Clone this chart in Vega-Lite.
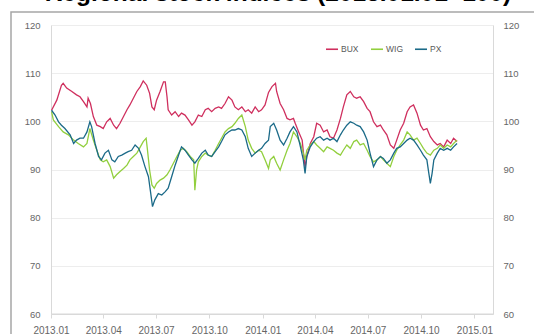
{
  "$schema": "https://vega.github.io/schema/vega-lite/v6.json",
  "width": 524,
  "height": 323,
  "autosize": {"type": "none"},
  "padding": {"left": 11, "top": 12, "right": -1, "bottom": -1},
  "background": "white",
  "title": {
    "text": "Regional stock indices (2013.01.01=100)",
    "font": "Liberation Sans",
    "fontSize": 24.5,
    "fontWeight": "bold",
    "color": "#000000",
    "anchor": "middle",
    "baseline": "alphabetic",
    "offset": -13,
    "dx": 5
  },
  "config": {
    "view": {"stroke": "#a6a6a6", "strokeWidth": 1.5},
    "axis": {"labelFont": "Liberation Sans", "labelColor": "#666666"}
  },
  "data": {
    "values": [
      {"s": "BUX", "d": "2013-01-02", "v": 102.3},
      {"s": "BUX", "d": "2013-01-11", "v": 104.4},
      {"s": "BUX", "d": "2013-01-19", "v": 107.5},
      {"s": "BUX", "d": "2013-01-22", "v": 107.9},
      {"s": "BUX", "d": "2013-01-28", "v": 106.9},
      {"s": "BUX", "d": "2013-02-06", "v": 106.2},
      {"s": "BUX", "d": "2013-02-14", "v": 105.5},
      {"s": "BUX", "d": "2013-02-20", "v": 105.1},
      {"s": "BUX", "d": "2013-02-26", "v": 104.1},
      {"s": "BUX", "d": "2013-03-04", "v": 103.0},
      {"s": "BUX", "d": "2013-03-06", "v": 104.8},
      {"s": "BUX", "d": "2013-03-10", "v": 103.7},
      {"s": "BUX", "d": "2013-03-15", "v": 101.0},
      {"s": "BUX", "d": "2013-03-21", "v": 99.2},
      {"s": "BUX", "d": "2013-03-27", "v": 98.9},
      {"s": "BUX", "d": "2013-04-01", "v": 98.5},
      {"s": "BUX", "d": "2013-04-07", "v": 99.9},
      {"s": "BUX", "d": "2013-04-13", "v": 100.6},
      {"s": "BUX", "d": "2013-04-19", "v": 99.2},
      {"s": "BUX", "d": "2013-04-24", "v": 98.5},
      {"s": "BUX", "d": "2013-04-30", "v": 99.6},
      {"s": "BUX", "d": "2013-05-06", "v": 101.0},
      {"s": "BUX", "d": "2013-05-12", "v": 102.4},
      {"s": "BUX", "d": "2013-05-17", "v": 103.4},
      {"s": "BUX", "d": "2013-05-23", "v": 104.8},
      {"s": "BUX", "d": "2013-05-29", "v": 106.2},
      {"s": "BUX", "d": "2013-06-04", "v": 107.2},
      {"s": "BUX", "d": "2013-06-09", "v": 108.4},
      {"s": "BUX", "d": "2013-06-15", "v": 107.5},
      {"s": "BUX", "d": "2013-06-20", "v": 105.8},
      {"s": "BUX", "d": "2013-06-24", "v": 103.0},
      {"s": "BUX", "d": "2013-06-28", "v": 102.4},
      {"s": "BUX", "d": "2013-07-02", "v": 104.4},
      {"s": "BUX", "d": "2013-07-08", "v": 106.2},
      {"s": "BUX", "d": "2013-07-14", "v": 108.2},
      {"s": "BUX", "d": "2013-07-17", "v": 108.2},
      {"s": "BUX", "d": "2013-07-20", "v": 105.1},
      {"s": "BUX", "d": "2013-07-22", "v": 102.4},
      {"s": "BUX", "d": "2013-07-28", "v": 101.3},
      {"s": "BUX", "d": "2013-08-03", "v": 102.0},
      {"s": "BUX", "d": "2013-08-09", "v": 101.0},
      {"s": "BUX", "d": "2013-08-14", "v": 101.7},
      {"s": "BUX", "d": "2013-08-20", "v": 101.3},
      {"s": "BUX", "d": "2013-08-26", "v": 100.3},
      {"s": "BUX", "d": "2013-09-01", "v": 99.2},
      {"s": "BUX", "d": "2013-09-06", "v": 99.9},
      {"s": "BUX", "d": "2013-09-12", "v": 101.3},
      {"s": "BUX", "d": "2013-09-18", "v": 101.0},
      {"s": "BUX", "d": "2013-09-24", "v": 102.4},
      {"s": "BUX", "d": "2013-09-29", "v": 102.7},
      {"s": "BUX", "d": "2013-10-05", "v": 102.0},
      {"s": "BUX", "d": "2013-10-11", "v": 102.7},
      {"s": "BUX", "d": "2013-10-17", "v": 103.0},
      {"s": "BUX", "d": "2013-10-22", "v": 102.7},
      {"s": "BUX", "d": "2013-10-28", "v": 103.7},
      {"s": "BUX", "d": "2013-11-03", "v": 105.1},
      {"s": "BUX", "d": "2013-11-09", "v": 104.4},
      {"s": "BUX", "d": "2013-11-14", "v": 103.0},
      {"s": "BUX", "d": "2013-11-20", "v": 102.4},
      {"s": "BUX", "d": "2013-11-26", "v": 103.0},
      {"s": "BUX", "d": "2013-12-02", "v": 102.0},
      {"s": "BUX", "d": "2013-12-07", "v": 102.4},
      {"s": "BUX", "d": "2013-12-13", "v": 101.7},
      {"s": "BUX", "d": "2013-12-19", "v": 103.0},
      {"s": "BUX", "d": "2013-12-25", "v": 102.0},
      {"s": "BUX", "d": "2013-12-30", "v": 102.4},
      {"s": "BUX", "d": "2014-01-05", "v": 103.4},
      {"s": "BUX", "d": "2014-01-11", "v": 106.0},
      {"s": "BUX", "d": "2014-01-17", "v": 107.2},
      {"s": "BUX", "d": "2014-01-23", "v": 107.9},
      {"s": "BUX", "d": "2014-01-25", "v": 106.2},
      {"s": "BUX", "d": "2014-01-31", "v": 103.7},
      {"s": "BUX", "d": "2014-02-06", "v": 102.4},
      {"s": "BUX", "d": "2014-02-12", "v": 100.6},
      {"s": "BUX", "d": "2014-02-17", "v": 100.3},
      {"s": "BUX", "d": "2014-02-23", "v": 100.6},
      {"s": "BUX", "d": "2014-02-26", "v": 99.6},
      {"s": "BUX", "d": "2014-03-04", "v": 97.8},
      {"s": "BUX", "d": "2014-03-10", "v": 96.1},
      {"s": "BUX", "d": "2014-03-12", "v": 93.7},
      {"s": "BUX", "d": "2014-03-15", "v": 90.5},
      {"s": "BUX", "d": "2014-03-18", "v": 92.7},
      {"s": "BUX", "d": "2014-03-24", "v": 95.4},
      {"s": "BUX", "d": "2014-03-30", "v": 96.8},
      {"s": "BUX", "d": "2014-04-04", "v": 99.6},
      {"s": "BUX", "d": "2014-04-10", "v": 99.2},
      {"s": "BUX", "d": "2014-04-16", "v": 97.8},
      {"s": "BUX", "d": "2014-04-22", "v": 98.2},
      {"s": "BUX", "d": "2014-04-27", "v": 96.8},
      {"s": "BUX", "d": "2014-05-03", "v": 96.5},
      {"s": "BUX", "d": "2014-05-09", "v": 98.2},
      {"s": "BUX", "d": "2014-05-15", "v": 100.6},
      {"s": "BUX", "d": "2014-05-20", "v": 103.0},
      {"s": "BUX", "d": "2014-05-26", "v": 105.5},
      {"s": "BUX", "d": "2014-06-01", "v": 106.2},
      {"s": "BUX", "d": "2014-06-07", "v": 105.1},
      {"s": "BUX", "d": "2014-06-12", "v": 104.8},
      {"s": "BUX", "d": "2014-06-18", "v": 105.1},
      {"s": "BUX", "d": "2014-06-24", "v": 104.1},
      {"s": "BUX", "d": "2014-06-30", "v": 102.7},
      {"s": "BUX", "d": "2014-07-05", "v": 102.0},
      {"s": "BUX", "d": "2014-07-11", "v": 99.9},
      {"s": "BUX", "d": "2014-07-17", "v": 98.9},
      {"s": "BUX", "d": "2014-07-23", "v": 99.2},
      {"s": "BUX", "d": "2014-07-28", "v": 98.2},
      {"s": "BUX", "d": "2014-08-03", "v": 97.2},
      {"s": "BUX", "d": "2014-08-09", "v": 95.1},
      {"s": "BUX", "d": "2014-08-15", "v": 94.4},
      {"s": "BUX", "d": "2014-08-20", "v": 96.1},
      {"s": "BUX", "d": "2014-08-26", "v": 98.2},
      {"s": "BUX", "d": "2014-09-01", "v": 99.6},
      {"s": "BUX", "d": "2014-09-07", "v": 102.0},
      {"s": "BUX", "d": "2014-09-12", "v": 103.0},
      {"s": "BUX", "d": "2014-09-18", "v": 103.4},
      {"s": "BUX", "d": "2014-09-24", "v": 101.7},
      {"s": "BUX", "d": "2014-09-30", "v": 99.2},
      {"s": "BUX", "d": "2014-10-05", "v": 98.2},
      {"s": "BUX", "d": "2014-10-11", "v": 98.5},
      {"s": "BUX", "d": "2014-10-17", "v": 96.8},
      {"s": "BUX", "d": "2014-10-23", "v": 95.8},
      {"s": "BUX", "d": "2014-10-29", "v": 95.1},
      {"s": "BUX", "d": "2014-11-03", "v": 95.4},
      {"s": "BUX", "d": "2014-11-09", "v": 94.7},
      {"s": "BUX", "d": "2014-11-15", "v": 96.1},
      {"s": "BUX", "d": "2014-11-21", "v": 95.4},
      {"s": "BUX", "d": "2014-11-26", "v": 96.5},
      {"s": "BUX", "d": "2014-12-02", "v": 95.8},

      {"s": "WIG", "d": "2013-01-02", "v": 102.0},
      {"s": "WIG", "d": "2013-01-05", "v": 100.3},
      {"s": "WIG", "d": "2013-01-14", "v": 98.9},
      {"s": "WIG", "d": "2013-01-22", "v": 97.8},
      {"s": "WIG", "d": "2013-01-31", "v": 97.2},
      {"s": "WIG", "d": "2013-02-09", "v": 96.1},
      {"s": "WIG", "d": "2013-02-17", "v": 95.4},
      {"s": "WIG", "d": "2013-02-26", "v": 94.7},
      {"s": "WIG", "d": "2013-03-04", "v": 95.4},
      {"s": "WIG", "d": "2013-03-09", "v": 98.5},
      {"s": "WIG", "d": "2013-03-15", "v": 96.1},
      {"s": "WIG", "d": "2013-03-21", "v": 94.0},
      {"s": "WIG", "d": "2013-03-27", "v": 92.0},
      {"s": "WIG", "d": "2013-04-01", "v": 91.6},
      {"s": "WIG", "d": "2013-04-07", "v": 92.0},
      {"s": "WIG", "d": "2013-04-13", "v": 90.6},
      {"s": "WIG", "d": "2013-04-19", "v": 88.2},
      {"s": "WIG", "d": "2013-04-24", "v": 88.9},
      {"s": "WIG", "d": "2013-04-30", "v": 89.6},
      {"s": "WIG", "d": "2013-05-06", "v": 90.2},
      {"s": "WIG", "d": "2013-05-12", "v": 90.9},
      {"s": "WIG", "d": "2013-05-17", "v": 92.0},
      {"s": "WIG", "d": "2013-05-23", "v": 92.7},
      {"s": "WIG", "d": "2013-05-29", "v": 93.4},
      {"s": "WIG", "d": "2013-06-04", "v": 94.7},
      {"s": "WIG", "d": "2013-06-09", "v": 95.8},
      {"s": "WIG", "d": "2013-06-14", "v": 96.5},
      {"s": "WIG", "d": "2013-06-16", "v": 94.4},
      {"s": "WIG", "d": "2013-06-20", "v": 89.9},
      {"s": "WIG", "d": "2013-06-24", "v": 86.8},
      {"s": "WIG", "d": "2013-06-28", "v": 86.1},
      {"s": "WIG", "d": "2013-07-02", "v": 87.1},
      {"s": "WIG", "d": "2013-07-08", "v": 87.8},
      {"s": "WIG", "d": "2013-07-14", "v": 88.2},
      {"s": "WIG", "d": "2013-07-20", "v": 88.9},
      {"s": "WIG", "d": "2013-07-25", "v": 89.9},
      {"s": "WIG", "d": "2013-07-31", "v": 91.3},
      {"s": "WIG", "d": "2013-08-06", "v": 92.7},
      {"s": "WIG", "d": "2013-08-12", "v": 94.0},
      {"s": "WIG", "d": "2013-08-17", "v": 94.4},
      {"s": "WIG", "d": "2013-08-23", "v": 93.7},
      {"s": "WIG", "d": "2013-08-29", "v": 92.7},
      {"s": "WIG", "d": "2013-09-04", "v": 92.0},
      {"s": "WIG", "d": "2013-09-06", "v": 85.7},
      {"s": "WIG", "d": "2013-09-09", "v": 89.9},
      {"s": "WIG", "d": "2013-09-12", "v": 91.6},
      {"s": "WIG", "d": "2013-09-18", "v": 92.7},
      {"s": "WIG", "d": "2013-09-24", "v": 93.4},
      {"s": "WIG", "d": "2013-09-29", "v": 93.0},
      {"s": "WIG", "d": "2013-10-05", "v": 92.7},
      {"s": "WIG", "d": "2013-10-11", "v": 94.0},
      {"s": "WIG", "d": "2013-10-17", "v": 95.4},
      {"s": "WIG", "d": "2013-10-22", "v": 96.5},
      {"s": "WIG", "d": "2013-10-28", "v": 97.8},
      {"s": "WIG", "d": "2013-11-03", "v": 98.5},
      {"s": "WIG", "d": "2013-11-09", "v": 98.9},
      {"s": "WIG", "d": "2013-11-14", "v": 99.6},
      {"s": "WIG", "d": "2013-11-20", "v": 100.6},
      {"s": "WIG", "d": "2013-11-26", "v": 101.3},
      {"s": "WIG", "d": "2013-12-02", "v": 98.9},
      {"s": "WIG", "d": "2013-12-07", "v": 96.1},
      {"s": "WIG", "d": "2013-12-13", "v": 94.4},
      {"s": "WIG", "d": "2013-12-19", "v": 93.4},
      {"s": "WIG", "d": "2013-12-25", "v": 94.0},
      {"s": "WIG", "d": "2013-12-30", "v": 93.7},
      {"s": "WIG", "d": "2014-01-05", "v": 92.0},
      {"s": "WIG", "d": "2014-01-11", "v": 90.2},
      {"s": "WIG", "d": "2014-01-14", "v": 92.0},
      {"s": "WIG", "d": "2014-01-20", "v": 92.7},
      {"s": "WIG", "d": "2014-01-25", "v": 91.3},
      {"s": "WIG", "d": "2014-01-31", "v": 89.9},
      {"s": "WIG", "d": "2014-02-06", "v": 92.0},
      {"s": "WIG", "d": "2014-02-12", "v": 94.0},
      {"s": "WIG", "d": "2014-02-17", "v": 95.4},
      {"s": "WIG", "d": "2014-02-23", "v": 97.8},
      {"s": "WIG", "d": "2014-03-01", "v": 96.8},
      {"s": "WIG", "d": "2014-03-07", "v": 95.4},
      {"s": "WIG", "d": "2014-03-12", "v": 93.4},
      {"s": "WIG", "d": "2014-03-15", "v": 92.0},
      {"s": "WIG", "d": "2014-03-18", "v": 94.0},
      {"s": "WIG", "d": "2014-03-24", "v": 95.1},
      {"s": "WIG", "d": "2014-03-30", "v": 95.8},
      {"s": "WIG", "d": "2014-04-04", "v": 95.1},
      {"s": "WIG", "d": "2014-04-10", "v": 94.4},
      {"s": "WIG", "d": "2014-04-16", "v": 93.7},
      {"s": "WIG", "d": "2014-04-22", "v": 94.7},
      {"s": "WIG", "d": "2014-04-27", "v": 94.4},
      {"s": "WIG", "d": "2014-05-03", "v": 94.0},
      {"s": "WIG", "d": "2014-05-09", "v": 93.4},
      {"s": "WIG", "d": "2014-05-15", "v": 93.0},
      {"s": "WIG", "d": "2014-05-20", "v": 94.0},
      {"s": "WIG", "d": "2014-05-26", "v": 95.1},
      {"s": "WIG", "d": "2014-06-01", "v": 94.4},
      {"s": "WIG", "d": "2014-06-07", "v": 95.8},
      {"s": "WIG", "d": "2014-06-12", "v": 96.1},
      {"s": "WIG", "d": "2014-06-18", "v": 95.1},
      {"s": "WIG", "d": "2014-06-24", "v": 95.4},
      {"s": "WIG", "d": "2014-06-30", "v": 94.0},
      {"s": "WIG", "d": "2014-07-05", "v": 92.7},
      {"s": "WIG", "d": "2014-07-11", "v": 91.6},
      {"s": "WIG", "d": "2014-07-17", "v": 92.0},
      {"s": "WIG", "d": "2014-07-23", "v": 92.7},
      {"s": "WIG", "d": "2014-07-28", "v": 92.0},
      {"s": "WIG", "d": "2014-08-03", "v": 91.3},
      {"s": "WIG", "d": "2014-08-09", "v": 90.6},
      {"s": "WIG", "d": "2014-08-15", "v": 92.7},
      {"s": "WIG", "d": "2014-08-20", "v": 94.0},
      {"s": "WIG", "d": "2014-08-26", "v": 95.1},
      {"s": "WIG", "d": "2014-09-01", "v": 96.1},
      {"s": "WIG", "d": "2014-09-07", "v": 97.8},
      {"s": "WIG", "d": "2014-09-12", "v": 97.2},
      {"s": "WIG", "d": "2014-09-18", "v": 96.1},
      {"s": "WIG", "d": "2014-09-24", "v": 96.5},
      {"s": "WIG", "d": "2014-09-30", "v": 95.4},
      {"s": "WIG", "d": "2014-10-05", "v": 94.4},
      {"s": "WIG", "d": "2014-10-11", "v": 93.4},
      {"s": "WIG", "d": "2014-10-17", "v": 93.0},
      {"s": "WIG", "d": "2014-10-23", "v": 94.0},
      {"s": "WIG", "d": "2014-10-29", "v": 94.4},
      {"s": "WIG", "d": "2014-11-03", "v": 95.1},
      {"s": "WIG", "d": "2014-11-09", "v": 94.4},
      {"s": "WIG", "d": "2014-11-15", "v": 95.1},
      {"s": "WIG", "d": "2014-11-21", "v": 94.7},
      {"s": "WIG", "d": "2014-11-26", "v": 95.4},
      {"s": "WIG", "d": "2014-12-02", "v": 96.1},

      {"s": "PX", "d": "2013-01-02", "v": 102.3},
      {"s": "PX", "d": "2013-01-08", "v": 101.3},
      {"s": "PX", "d": "2013-01-14", "v": 99.9},
      {"s": "PX", "d": "2013-01-19", "v": 99.2},
      {"s": "PX", "d": "2013-01-25", "v": 98.5},
      {"s": "PX", "d": "2013-02-03", "v": 97.2},
      {"s": "PX", "d": "2013-02-09", "v": 95.4},
      {"s": "PX", "d": "2013-02-14", "v": 96.1},
      {"s": "PX", "d": "2013-02-20", "v": 96.5},
      {"s": "PX", "d": "2013-02-26", "v": 96.5},
      {"s": "PX", "d": "2013-03-04", "v": 97.8},
      {"s": "PX", "d": "2013-03-09", "v": 99.9},
      {"s": "PX", "d": "2013-03-12", "v": 98.9},
      {"s": "PX", "d": "2013-03-18", "v": 95.4},
      {"s": "PX", "d": "2013-03-24", "v": 92.7},
      {"s": "PX", "d": "2013-03-29", "v": 92.0},
      {"s": "PX", "d": "2013-04-04", "v": 93.4},
      {"s": "PX", "d": "2013-04-10", "v": 94.0},
      {"s": "PX", "d": "2013-04-16", "v": 92.0},
      {"s": "PX", "d": "2013-04-21", "v": 91.6},
      {"s": "PX", "d": "2013-04-27", "v": 92.7},
      {"s": "PX", "d": "2013-05-03", "v": 93.0},
      {"s": "PX", "d": "2013-05-09", "v": 93.4},
      {"s": "PX", "d": "2013-05-14", "v": 93.7},
      {"s": "PX", "d": "2013-05-20", "v": 94.0},
      {"s": "PX", "d": "2013-05-26", "v": 95.1},
      {"s": "PX", "d": "2013-06-01", "v": 94.4},
      {"s": "PX", "d": "2013-06-06", "v": 93.0},
      {"s": "PX", "d": "2013-06-12", "v": 90.6},
      {"s": "PX", "d": "2013-06-18", "v": 88.5},
      {"s": "PX", "d": "2013-06-22", "v": 85.0},
      {"s": "PX", "d": "2013-06-25", "v": 82.3},
      {"s": "PX", "d": "2013-06-29", "v": 83.7},
      {"s": "PX", "d": "2013-07-05", "v": 85.0},
      {"s": "PX", "d": "2013-07-11", "v": 84.7},
      {"s": "PX", "d": "2013-07-17", "v": 85.4},
      {"s": "PX", "d": "2013-07-22", "v": 86.1},
      {"s": "PX", "d": "2013-07-28", "v": 88.5},
      {"s": "PX", "d": "2013-08-03", "v": 90.9},
      {"s": "PX", "d": "2013-08-09", "v": 93.0},
      {"s": "PX", "d": "2013-08-14", "v": 94.7},
      {"s": "PX", "d": "2013-08-20", "v": 94.0},
      {"s": "PX", "d": "2013-08-26", "v": 93.0},
      {"s": "PX", "d": "2013-09-01", "v": 92.0},
      {"s": "PX", "d": "2013-09-06", "v": 91.3},
      {"s": "PX", "d": "2013-09-12", "v": 92.3},
      {"s": "PX", "d": "2013-09-18", "v": 93.4},
      {"s": "PX", "d": "2013-09-24", "v": 94.0},
      {"s": "PX", "d": "2013-09-29", "v": 93.0},
      {"s": "PX", "d": "2013-10-05", "v": 92.7},
      {"s": "PX", "d": "2013-10-11", "v": 93.7},
      {"s": "PX", "d": "2013-10-17", "v": 94.7},
      {"s": "PX", "d": "2013-10-22", "v": 95.8},
      {"s": "PX", "d": "2013-10-28", "v": 97.2},
      {"s": "PX", "d": "2013-11-03", "v": 97.8},
      {"s": "PX", "d": "2013-11-09", "v": 98.2},
      {"s": "PX", "d": "2013-11-14", "v": 98.2},
      {"s": "PX", "d": "2013-11-20", "v": 98.5},
      {"s": "PX", "d": "2013-11-26", "v": 98.2},
      {"s": "PX", "d": "2013-12-02", "v": 96.8},
      {"s": "PX", "d": "2013-12-07", "v": 94.4},
      {"s": "PX", "d": "2013-12-13", "v": 92.7},
      {"s": "PX", "d": "2013-12-19", "v": 93.4},
      {"s": "PX", "d": "2013-12-25", "v": 94.0},
      {"s": "PX", "d": "2013-12-30", "v": 94.4},
      {"s": "PX", "d": "2014-01-05", "v": 95.4},
      {"s": "PX", "d": "2014-01-11", "v": 96.1},
      {"s": "PX", "d": "2014-01-14", "v": 98.9},
      {"s": "PX", "d": "2014-01-20", "v": 99.6},
      {"s": "PX", "d": "2014-01-25", "v": 98.2},
      {"s": "PX", "d": "2014-01-31", "v": 96.1},
      {"s": "PX", "d": "2014-02-06", "v": 95.1},
      {"s": "PX", "d": "2014-02-12", "v": 96.5},
      {"s": "PX", "d": "2014-02-17", "v": 97.8},
      {"s": "PX", "d": "2014-02-23", "v": 98.9},
      {"s": "PX", "d": "2014-03-01", "v": 97.8},
      {"s": "PX", "d": "2014-03-07", "v": 94.7},
      {"s": "PX", "d": "2014-03-12", "v": 92.0},
      {"s": "PX", "d": "2014-03-15", "v": 89.2},
      {"s": "PX", "d": "2014-03-18", "v": 92.7},
      {"s": "PX", "d": "2014-03-24", "v": 94.7},
      {"s": "PX", "d": "2014-03-30", "v": 95.8},
      {"s": "PX", "d": "2014-04-04", "v": 96.5},
      {"s": "PX", "d": "2014-04-10", "v": 96.8},
      {"s": "PX", "d": "2014-04-16", "v": 96.1},
      {"s": "PX", "d": "2014-04-22", "v": 96.5},
      {"s": "PX", "d": "2014-04-27", "v": 96.1},
      {"s": "PX", "d": "2014-05-03", "v": 96.5},
      {"s": "PX", "d": "2014-05-09", "v": 95.8},
      {"s": "PX", "d": "2014-05-15", "v": 97.2},
      {"s": "PX", "d": "2014-05-20", "v": 98.2},
      {"s": "PX", "d": "2014-05-26", "v": 99.2},
      {"s": "PX", "d": "2014-06-01", "v": 99.9},
      {"s": "PX", "d": "2014-06-07", "v": 99.6},
      {"s": "PX", "d": "2014-06-12", "v": 99.2},
      {"s": "PX", "d": "2014-06-18", "v": 98.9},
      {"s": "PX", "d": "2014-06-24", "v": 97.8},
      {"s": "PX", "d": "2014-06-30", "v": 96.1},
      {"s": "PX", "d": "2014-07-05", "v": 93.4},
      {"s": "PX", "d": "2014-07-11", "v": 90.6},
      {"s": "PX", "d": "2014-07-17", "v": 92.0},
      {"s": "PX", "d": "2014-07-23", "v": 92.7},
      {"s": "PX", "d": "2014-07-28", "v": 92.3},
      {"s": "PX", "d": "2014-08-03", "v": 91.3},
      {"s": "PX", "d": "2014-08-09", "v": 92.0},
      {"s": "PX", "d": "2014-08-15", "v": 93.4},
      {"s": "PX", "d": "2014-08-20", "v": 94.4},
      {"s": "PX", "d": "2014-08-26", "v": 94.7},
      {"s": "PX", "d": "2014-09-01", "v": 95.4},
      {"s": "PX", "d": "2014-09-07", "v": 96.1},
      {"s": "PX", "d": "2014-09-12", "v": 96.5},
      {"s": "PX", "d": "2014-09-18", "v": 96.1},
      {"s": "PX", "d": "2014-09-24", "v": 95.1},
      {"s": "PX", "d": "2014-09-30", "v": 94.0},
      {"s": "PX", "d": "2014-10-05", "v": 93.0},
      {"s": "PX", "d": "2014-10-11", "v": 92.0},
      {"s": "PX", "d": "2014-10-14", "v": 89.5},
      {"s": "PX", "d": "2014-10-17", "v": 87.1},
      {"s": "PX", "d": "2014-10-20", "v": 89.2},
      {"s": "PX", "d": "2014-10-23", "v": 92.0},
      {"s": "PX", "d": "2014-10-29", "v": 93.4},
      {"s": "PX", "d": "2014-11-03", "v": 94.4},
      {"s": "PX", "d": "2014-11-09", "v": 94.0},
      {"s": "PX", "d": "2014-11-15", "v": 94.4},
      {"s": "PX", "d": "2014-11-21", "v": 94.0},
      {"s": "PX", "d": "2014-11-26", "v": 94.7},
      {"s": "PX", "d": "2014-12-02", "v": 95.4}
    ]
  },
  "layer": [
    {
      "mark": {"type": "line", "strokeWidth": 1.3},
      "encoding": {
        "x": {
          "field": "d",
          "type": "temporal",
          "scale": {
            "type": "utc",
            "domain": [
              {"year": 2013, "month": 1, "date": 1, "utc": true},
              {"year": 2015, "month": 2, "date": 2, "utc": true}
            ],
            "range": [40, 482]
          },
          "axis": {
            "orient": "bottom",
            "title": null,
            "values": [
              {"year": 2013, "month": 1, "date": 1, "utc": true},
              {"year": 2013, "month": 4, "date": 1, "utc": true},
              {"year": 2013, "month": 7, "date": 1, "utc": true},
              {"year": 2013, "month": 10, "date": 1, "utc": true},
              {"year": 2014, "month": 1, "date": 1, "utc": true},
              {"year": 2014, "month": 4, "date": 1, "utc": true},
              {"year": 2014, "month": 7, "date": 1, "utc": true},
              {"year": 2014, "month": 10, "date": 1, "utc": true},
              {"year": 2015, "month": 1, "date": 1, "utc": true}
            ],
            "labelExpr": "utcFormat(datum.value, '%Y.%m')",
            "grid": false,
            "domain": true,
            "domainColor": "#d9d9d9",
            "ticks": true,
            "tickColor": "#d9d9d9",
            "tickSize": 4,
            "labelPadding": 7,
            "labelFontSize": 10,
            "labelFlush": false,
            "labelOverlap": false,
            "offset": -21
          }
        },
        "y": {
          "field": "v",
          "type": "quantitative",
          "scale": {"domain": [60, 120], "range": [302, 13], "zero": false, "nice": false},
          "axis": {
            "orient": "left",
            "title": null,
            "values": [60, 70, 80, 90, 100, 110, 120],
            "grid": true,
            "gridColor": "#ededed",
            "domain": true,
            "domainColor": "#d9d9d9",
            "ticks": false,
            "tickSize": 0,
            "labelPadding": 11,
            "labelFontSize": 9.5,
            "offset": -40
          }
        },
        "color": {
          "field": "s",
          "type": "nominal",
          "scale": {"domain": ["BUX", "WIG", "PX"], "range": ["#cf2f5e", "#92cf3e", "#1b6a88"]},
          "legend": {
            "orient": "none",
            "legendX": 314,
            "legendY": 30,
            "direction": "horizontal",
            "title": null,
            "symbolType": "stroke",
            "symbolSize": 144,
            "symbolStrokeWidth": 1.6,
            "labelFont": "Liberation Sans",
            "labelFontSize": 8.5,
            "labelColor": "#595959",
            "labelOffset": 2,
            "columnPadding": 8,
            "padding": 0
          }
        }
      }
    },
    {
      "data": {"values": [{}]},
      "mark": {"type": "rule", "color": "#d9d9d9"},
      "encoding": {
        "x": {"datum": {"year": 2013, "month": 1, "date": 1, "utc": true}, "type": "temporal"},
        "x2": {"datum": {"year": 2015, "month": 2, "date": 2, "utc": true}},
        "y": {
          "datum": 60,
          "type": "quantitative",
          "axis": {
            "orient": "right",
            "title": null,
            "values": [60, 70, 80, 90, 100, 110, 120],
            "grid": false,
            "domain": true,
            "domainColor": "#d9d9d9",
            "ticks": false,
            "tickSize": 0,
            "labelPadding": 10,
            "labelFontSize": 9.5,
            "offset": -42
          }
        }
      }
    }
  ],
  "resolve": {"axis": {"y": "independent"}}
}
